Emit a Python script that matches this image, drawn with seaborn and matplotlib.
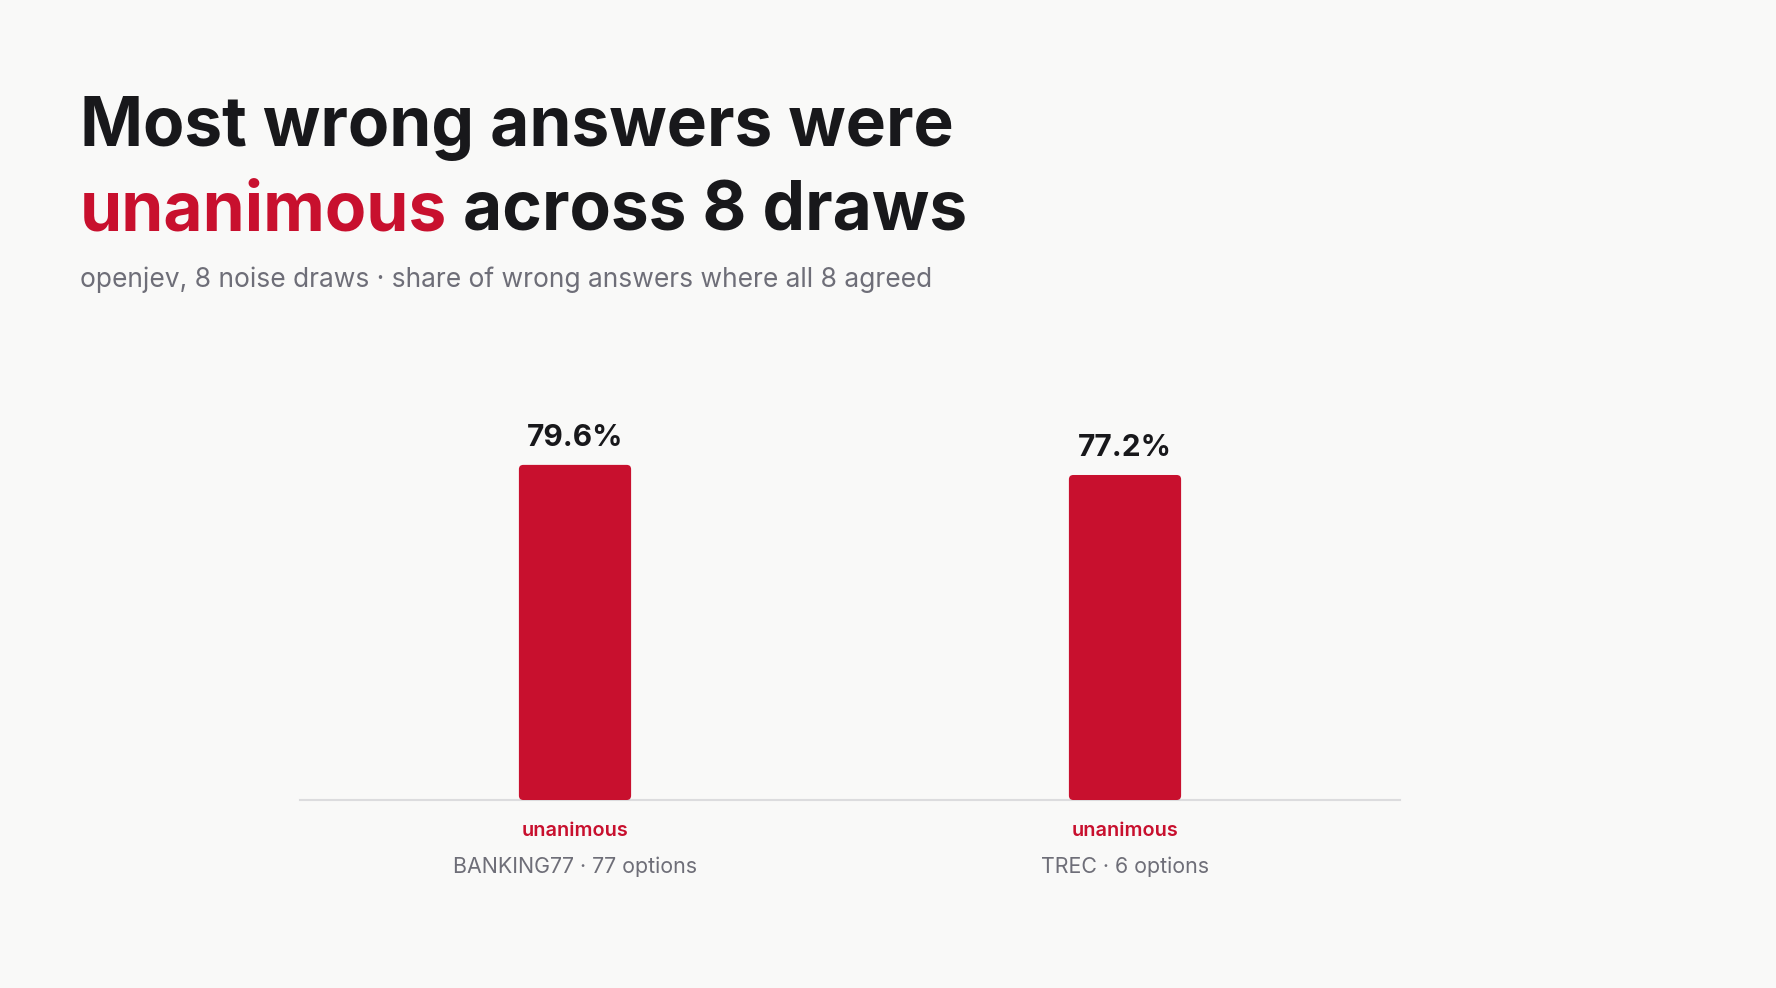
import numpy as np
import pandas as pd
import matplotlib.pyplot as plt
from matplotlib.patches import FancyBboxPatch
import seaborn as sns

# data
datasets = ["BANKING77 · 77 options", "TREC · 6 options"]
unanimous_share = [79.6, 77.2]
bar_tag = "unanimous"

RED = "#C8102E"
INK = "#18181B"
GREY = "#6E6E78"
BG = "#F9F9F8"

sns.set_theme(style="white")
plt.rcParams["font.family"] = ["Inter", "DejaVu Sans"]

df = pd.DataFrame({"dataset": datasets, "share": unanimous_share})

W, H = 1776, 988
fig = plt.figure(figsize=(W / 100, H / 100), dpi=100, facecolor=BG)
ax = fig.add_axes([300 / W, 188 / H, 1100 / W, 421 / H])
ax.set_facecolor(BG)

sns.barplot(data=df, x="dataset", y="share", color=RED, width=0.204,
            saturation=1, ax=ax)

ax.set_xlim(-0.5, 1.5)
ax.set_ylim(0, 100)

# swap the plain bars for slightly rounded ones
for p in list(ax.patches):
    x0, y0 = p.get_x(), p.get_y()
    w, h = p.get_width(), p.get_height()
    rb = FancyBboxPatch((x0, y0), w, h,
                        boxstyle="round,pad=0,rounding_size=0.008",
                        mutation_aspect=131, facecolor=RED, edgecolor="none",
                        zorder=3)
    p.remove()
    ax.add_patch(rb)

for i, v in enumerate(unanimous_share):
    ax.annotate(f"{v:.1f}%", xy=(i, v), xytext=(0, 13.8), textcoords="offset points",
                ha="center", va="baseline", fontsize=21.5, fontweight="bold", color=INK)
    ax.annotate(bar_tag, xy=(i, 0), xycoords=("data", "axes fraction"),
                xytext=(0, -26), textcoords="offset points",
                ha="center", va="baseline", fontsize=14.3, fontweight="semibold", color=RED)
    ax.annotate(datasets[i], xy=(i, 0), xycoords=("data", "axes fraction"),
                xytext=(0, -52.5), textcoords="offset points",
                ha="center", va="baseline", fontsize=15.4, color=GREY)

ax.set_xticks([])
ax.set_yticks([])
ax.set_xlabel("")
ax.set_ylabel("")
for s in ["top", "right", "left"]:
    ax.spines[s].set_visible(False)
ax.spines["bottom"].set_color("#DCDCDE")
ax.spines["bottom"].set_linewidth(1.5)
ax.spines["bottom"].set_zorder(1)

# title, two lines, one word in red
left = 79.5 / W
fig.text(left, 1 - 146 / H, "Most wrong answers were", fontsize=48.7, fontweight="bold",
         color=INK, va="baseline", ha="left")
t1 = fig.text(left, 1 - 230 / H, "unanimous", fontsize=48.7, fontweight="bold",
              color=RED, va="baseline", ha="left")
fig.canvas.draw()
bb = t1.get_window_extent()
fig.text(bb.x1 / W, 1 - 230 / H, " across 8 draws", fontsize=48.7, fontweight="bold",
         color=INK, va="baseline", ha="left")

fig.text(left, 1 - 287 / H, "openjev, 8 noise draws · share of wrong answers where all 8 agreed",
         fontsize=19, color=GREY, va="baseline", ha="left")

fig.savefig("out.png", dpi=100, facecolor=BG)
